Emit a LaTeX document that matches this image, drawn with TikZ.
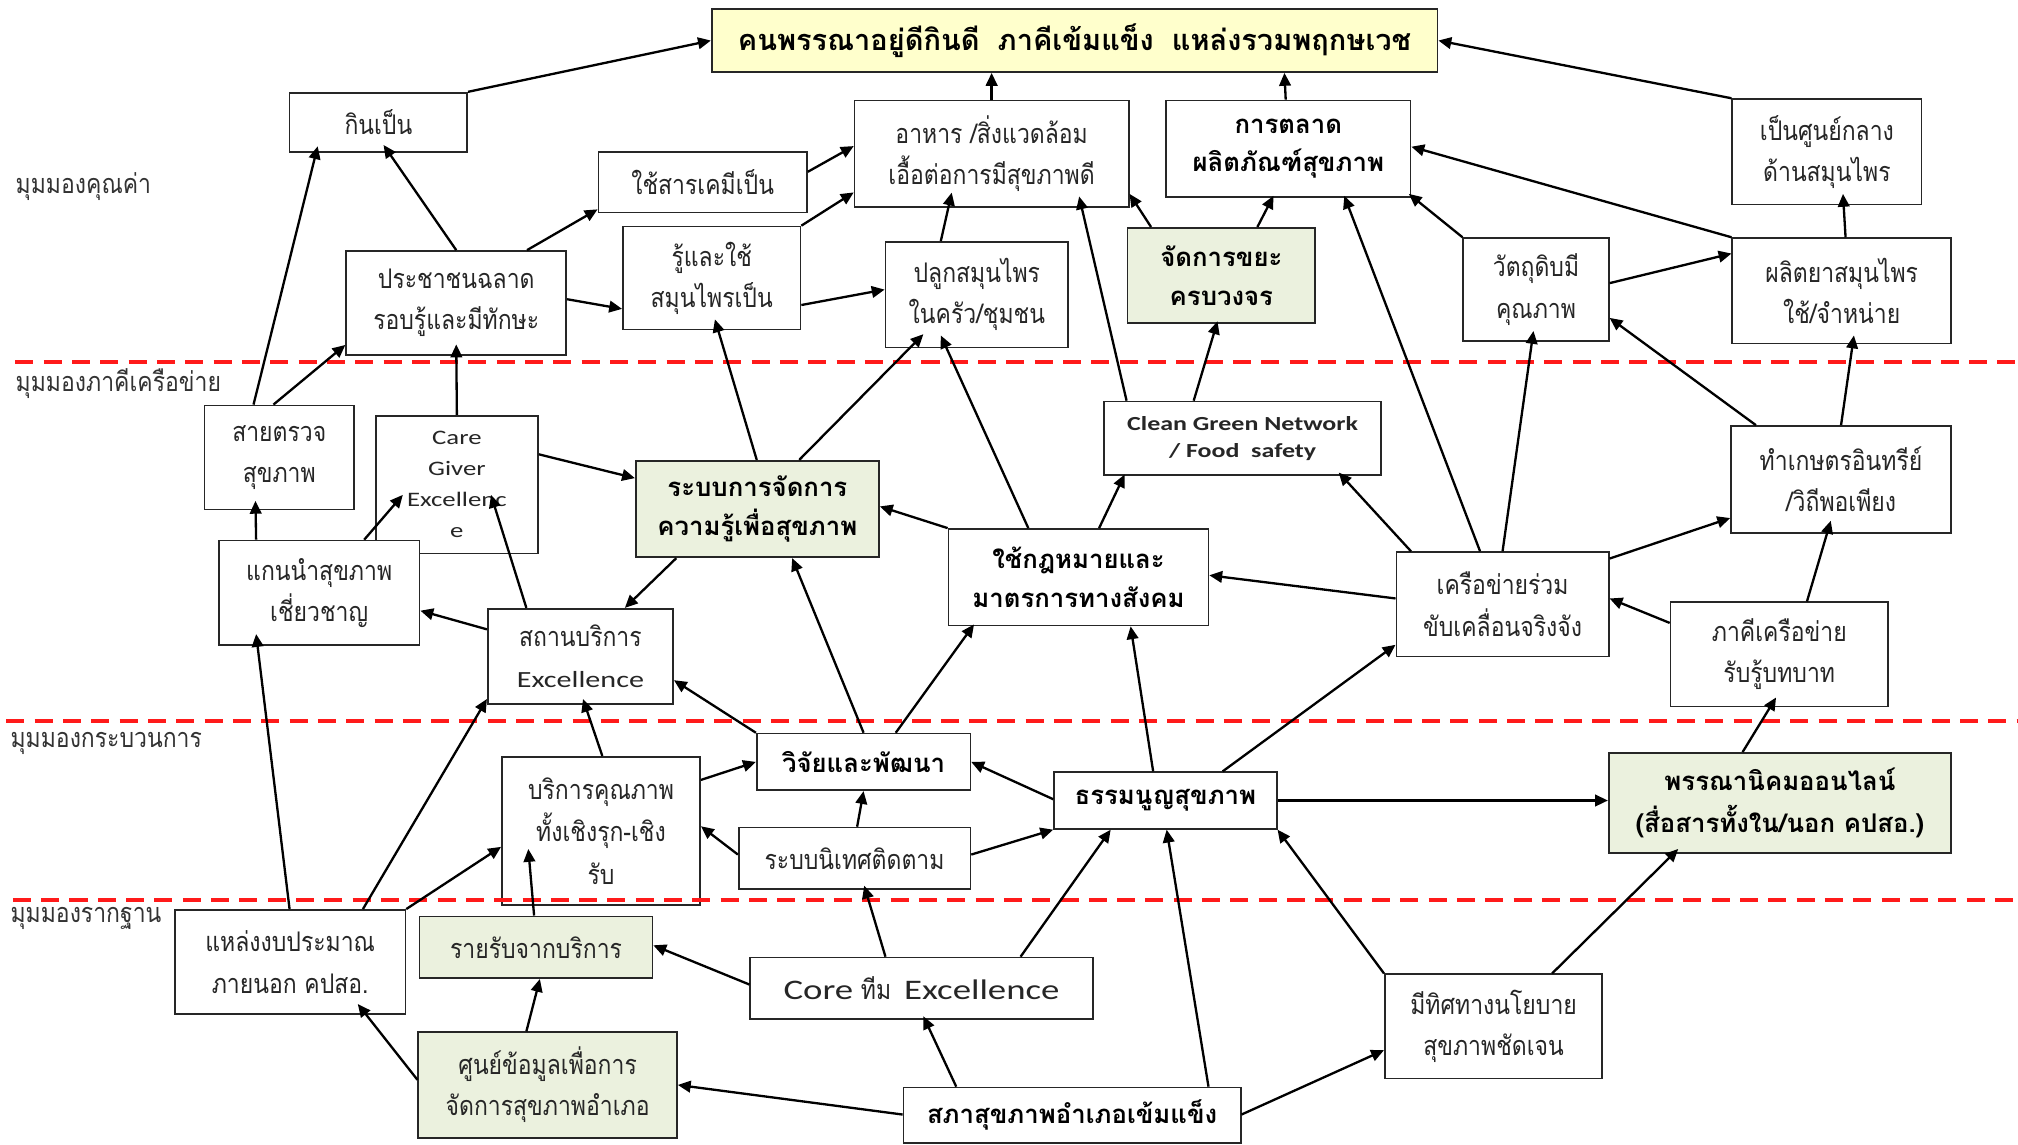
\documentclass[tikz,border=0pt]{standalone}
\usepackage{fontspec}
\setmainfont{Loma}[Script=Thai]
\newfontfamily\thn{Loma}[Script=Thai,FakeStretch=0.85]
\newfontfamily\en{Carlito}[FakeStretch=1.3]
\usetikzlibrary{arrows.meta}
\definecolor{boxgreen}{HTML}{EBF1DE}
\definecolor{boxyellow}{HTML}{FFFFCC}
\definecolor{dashred}{HTML}{FF1A1A}
\tikzset{
 box/.style={draw=black!85, line width=1.3pt, fill=white, align=center, inner sep=0pt,
   font=\thn\fontsize{21}{32}\selectfont, text=black!85},
 gbox/.style={box, fill=boxgreen},
 bfbox/.style={font=\fontsize{20}{30}\selectfont\bfseries, text=black},
 arr/.style={line width=1.8pt, -{Triangle[length=10pt,width=9pt]}},
 zone/.style={dashred, line width=3pt, dash pattern=on 14pt off 8pt},
 zlabel/.style={anchor=west, font=\thn\fontsize{21}{24}\selectfont, text=black!80, inner sep=0pt},
}
\begin{document}
\begin{tikzpicture}[x=1pt,y=-1pt]
\useasboundingbox (0,0) rectangle (1568,889);
\fill[white] (0,0) rectangle (1568,889);

% band labels
\node[zlabel] (l1) at (12,145) {มุมมองคุณค่า};
\node[zlabel] (l2) at (12,298) {มุมมองภาคีเครือข่าย};
\node[zlabel] (l3) at (8,578) {มุมมองกระบวนการ};
\node[zlabel] (l4) at (8,714) {มุมมองรากฐาน};

% boxes
\node[box,bfbox,font=\fontsize{22.5}{30}\selectfont\bfseries,fill=boxyellow,minimum width=564pt,minimum height=49pt] (top) at (835,31.5) {คนพรรณาอยู่ดีกินดี\hspace{14pt}ภาคีเข้มแข็ง\hspace{14pt}แหล่งรวมพฤกษเวช};
\node[box,minimum width=138pt,minimum height=46pt] (kin) at (294,95) {กินเป็น};
\node[box,minimum width=162pt,minimum height=47pt] (chem) at (546,141.5) {ใช้สารเคมีเป็น};
\node[box,minimum width=213pt,minimum height=83pt] (food) at (770.5,119.5) {อาหาร /สิ่งแวดล้อม\\เอื้อต่อการมีสุขภาพดี};
\node[box,bfbox,minimum width=190pt,minimum height=75pt] (market) at (1001,115.5) {การตลาด\\ผลิตภัณฑ์สุขภาพ};
\node[box,minimum width=147pt,minimum height=82pt] (center) at (1419.5,118) {เป็นศูนย์กลาง\\ด้านสมุนไพร};
\node[box,minimum width=171pt,minimum height=81pt] (people) at (354.5,235.5) {ประชาชนฉลาด\\รอบรู้และมีทักษะ};
\node[box,minimum width=138pt,minimum height=80pt] (knowuse) at (553,216) {รู้และใช้\\สมุนไพรเป็น};
\node[box,minimum width=142pt,minimum height=82pt] (grow) at (759,229) {ปลูกสมุนไพร\\ในครัว/ชุมชน};
\node[gbox,bfbox,minimum width=146pt,minimum height=74pt] (waste) at (949,214) {จัดการขยะ\\ครบวงจร};
\node[box,minimum width=113pt,minimum height=80pt] (raw) at (1193.5,225) {วัตถุดิบมี\\คุณภาพ};
\node[box,minimum width=170pt,minimum height=82pt] (herbprod) at (1431,226) {ผลิตยาสมุนไพร\\ใช้/จำหน่าย};

\node[box,minimum width=116pt,minimum height=81pt] (check) at (217,355.5) {สายตรวจ\\สุขภาพ};
\node[box,font=\en\fontsize{16}{24}\selectfont,minimum width=126pt,minimum height=107pt] (care) at (355,376.5) {Care\\Giver\\Excellenc\\e};
\node[box,minimum width=156pt,minimum height=81pt] (leader) at (248,460.5) {แกนนำสุขภาพ\\เชี่ยวชาญ};
\node[gbox,bfbox,minimum width=189pt,minimum height=75pt] (km) at (588.5,395.5) {ระบบการจัดการ\\ความรู้เพื่อสุขภาพ};
\node[box,minimum width=144pt,minimum height=74pt] (facility) at (451,510) {สถานบริการ\\{\en\fontsize{18}{30}\selectfont Excellence}};
\node[box,bfbox,minimum width=202pt,minimum height=75pt] (law) at (838,448.5) {ใช้กฎหมายและ\\มาตรการทางสังคม};
\node[box,font=\en\fontsize{15.5}{21}\selectfont\bfseries,minimum width=215pt,minimum height=57pt] (cgn) at (965.5,340.5) {Clean Green Network\\/ Food\ \ safety};
\node[box,minimum width=165pt,minimum height=81pt] (net) at (1167.5,469.5) {เครือข่ายร่วม\\ขับเคลื่อนจริงจัง};
\node[box,minimum width=171pt,minimum height=83pt] (organic) at (1430.5,372.5) {ทำเกษตรอินทรีย์\\/วิถีพอเพียง};
\node[box,minimum width=169pt,minimum height=81pt] (partner) at (1382.5,508.5) {ภาคีเครือข่าย\\รับรู้บทบาท};

\node[box,font=\thn\fontsize{21}{33}\selectfont,minimum width=154pt,minimum height=115pt] (quality) at (467,645.5) {บริการคุณภาพ\\ทั้งเชิงรุก-เชิง\\รับ};
\node[box,bfbox,minimum width=166pt,minimum height=44pt] (rnd) at (671,592) {วิจัยและพัฒนา};
\node[box,minimum width=180pt,minimum height=48pt] (supervise) at (664,667) {ระบบนิเทศติดตาม};
\node[box,bfbox,minimum width=173pt,minimum height=44pt] (charter) at (905.5,622) {ธรรมนูญสุขภาพ};
\node[gbox,bfbox,font=\fontsize{20}{33}\selectfont\bfseries,minimum width=266pt,minimum height=78pt] (online) at (1383,624) {พรรณานิคมออนไลน์\\(สื่อสารทั้งใน/นอก คปสอ.)};

\node[box,minimum width=179pt,minimum height=81pt] (budget) at (225.5,747.5) {แหล่งงบประมาณ\\ภายนอก คปสอ.};
\node[gbox,minimum width=181pt,minimum height=48pt] (income) at (416.5,736) {รายรับจากบริการ};
\node[box,minimum width=266pt,minimum height=48pt] (core) at (716,768) {{\en\fontsize{22}{26}\selectfont Core} ทีม\hspace{10pt}{\en\fontsize{22}{26}\selectfont Excellence}};
\node[gbox,minimum width=201pt,minimum height=82pt] (data) at (425.5,843) {ศูนย์ข้อมูลเพื่อการ\\จัดการสุขภาพอำเภอ};
\node[box,bfbox,minimum width=262pt,minimum height=43pt] (council) at (833,866.5) {สภาสุขภาพอำเภอเข้มแข็ง};
\node[box,minimum width=169pt,minimum height=81pt] (policy) at (1160.5,797.5) {มีทิศทางนโยบาย\\สุขภาพชัดเจน};

% zone lines
\draw[zone] (12,281) -- (1568,281);
\draw[zone] (5,560) -- (1568,560);
\draw[zone] (10,699) -- (1568,699);

% connectors
\draw[arr] (kin.north east) -- (top.west);
\draw[arr] (food.north) -- ([xshift=-64.5pt]top.south);
\draw[arr] ([xshift=-2pt]market.north) -- ([xshift=163pt]top.south);
\draw[arr] (center.north west) -- (top.east);
\draw[arr] ([yshift=8pt]chem.east) -- ([yshift=6pt]food.west);
\draw[arr] (knowuse.north east) -- ([yshift=-30pt]food.west);
\draw[arr] (people.north) -- ([xshift=4pt,yshift=6pt]kin.south);
\draw[arr] ([xshift=55pt]people.north) -- ([yshift=3pt]chem.south west);
\draw[arr] ([yshift=3pt]people.east) -- ([yshift=-24pt]knowuse.west);
\draw[arr] ([yshift=-21pt]knowuse.east) -- ([yshift=4pt]grow.west);
\draw[arr] ([xshift=-28pt]grow.north) -- ([xshift=-31pt,yshift=12pt]food.south);
\draw[arr] ([xshift=19pt]waste.north west) -- ([yshift=11pt]food.south east);
\draw[arr] ([xshift=28pt]waste.north) -- ([xshift=-11.5pt,yshift=1.5pt]market.south);
\draw[arr] (raw.north west) -- ([xshift=-2pt,yshift=3pt]market.south east);
\draw[arr] (herbprod.north west) -- ([yshift=1.5pt]market.east);
\draw[arr] ([xshift=3pt]herbprod.north) -- ([xshift=12.5pt,yshift=9pt]center.south);
\draw[arr] ([yshift=5pt]raw.east) -- ([yshift=29pt]herbprod.west);
\draw[arr] ([xshift=32.5pt]km.north) -- ([xshift=-41.5pt,yshift=11pt]grow.south);
\draw[arr] ([xshift=-39pt]law.north) -- ([xshift=-28pt,yshift=10pt]grow.south);
\draw[arr] ([xshift=18pt]cgn.north west) -- ([xshift=68pt,yshift=9pt]food.south);
\draw[arr] ([xshift=-38pt]cgn.north) -- ([xshift=-3pt,yshift=2pt]waste.south);
\draw[arr] ([xshift=-17.5pt]net.north) -- ([xshift=43.5pt,yshift=1.5pt]market.south);
\draw[arr] (net.north) -- ([xshift=-2pt,yshift=8.5pt]raw.south);
\draw[arr] ([xshift=20pt]organic.north west) -- ([yshift=-22pt]raw.east);
\draw[arr] (organic.north) -- ([xshift=9.5pt,yshift=7pt]herbprod.south);
\draw[arr] ([yshift=35.5pt]net.east) -- ([yshift=-30pt]organic.west);
\draw[arr] ([xshift=21.5pt]partner.north) -- ([xshift=-8pt,yshift=10pt]organic.south);
\draw[arr] ([yshift=24.5pt]partner.west) -- ([yshift=4.5pt]net.east);
\draw[arr] ([yshift=4.5pt]net.west) -- ([yshift=1.5pt]law.east);
\draw[arr] ([xshift=12pt]net.north west) -- ([xshift=-33.5pt,yshift=2.5pt]cgn.south east);
\draw[arr] ([xshift=16pt]law.north) -- ([xshift=16.5pt,yshift=1pt]cgn.south west);
\draw[arr] (law.north west) -- ([yshift=2pt]km.east);
\draw[arr] ([xshift=-0.5pt]km.north) -- ([xshift=2.5pt,yshift=8.5pt]knowuse.south);
\draw[arr] ([xshift=-63pt]km.south) -- ([xshift=34.5pt]facility.north);
\draw[arr] ([yshift=23.5pt]care.east) -- ([yshift=24pt]km.west);
\draw[arr] (care.north) -- ([yshift=9pt]people.south);
\draw[arr] ([xshift=-20pt]check.north) -- ([xshift=22.5pt,yshift=5pt]kin.south west);
\draw[arr] ([xshift=-4.5pt]check.north) -- ([yshift=-32.5pt]people.west);
\draw[arr] ([xshift=-49pt]leader.north) -- ([xshift=-18.5pt,yshift=7.5pt]check.south);
\draw[arr] ([xshift=35pt]leader.north) -- ([xshift=-42pt,yshift=-8pt]care.center);
\draw[arr] ([xshift=-42pt]facility.north) -- ([xshift=26.5pt,yshift=-8pt]care.center);
\draw[arr] ([yshift=21pt]facility.west) -- ([yshift=-14pt]leader.east);
\draw[arr] ([xshift=-0.5pt]budget.north) -- ([xshift=-49pt,yshift=9pt]leader.south);
\draw[arr] ([xshift=56.5pt]budget.north) -- ([yshift=4.5pt]facility.south west);
\draw[arr] (budget.north east) -- ([yshift=-12.5pt]quality.west);
\draw[arr] ([xshift=1pt]quality.north) -- ([xshift=2pt,yshift=4.5pt]facility.south);
\draw[arr] (rnd.north west) -- ([yshift=-18.5pt]facility.east);
\draw[arr] (rnd.north) -- ([xshift=27pt]km.south);
\draw[arr] ([xshift=25pt]rnd.north) -- ([xshift=20.5pt,yshift=1.5pt]law.south west);
\draw[arr] ([yshift=39.5pt]quality.east) -- (rnd.west);
\draw[arr] ([yshift=3pt]supervise.west) -- ([yshift=3.5pt]quality.east);
\draw[arr] ([xshift=2pt]supervise.north) -- (rnd.south);
\draw[arr] ([yshift=3pt]supervise.east) -- (charter.south west);
\draw[arr] ([yshift=1pt]charter.west) -- (rnd.east);
\draw[arr] ([xshift=-9.5pt]charter.north) -- ([xshift=40.5pt]law.south);
\draw[arr] ([xshift=44.5pt]charter.north) -- ([yshift=-31.5pt]net.west);
\draw[arr] (charter.east) -- ([yshift=2pt]online.west);
\draw[arr] ([xshift=-29pt]online.north) -- ([xshift=-2.5pt,yshift=7.7pt]partner.south);
\draw[arr] ([xshift=-28pt]core.north) -- ([xshift=7.5pt,yshift=3.5pt]supervise.south);
\draw[arr] ([xshift=77pt]core.north) -- ([xshift=-42.5pt]charter.south);
\draw[arr] ([yshift=3pt]core.west) -- ([yshift=1.5pt]income.east);
\draw[arr] ([xshift=-1.5pt]income.north) -- ([xshift=-56.5pt,yshift=44pt]quality.south);
\draw[arr] ([xshift=-16.5pt]data.north) -- ([xshift=3pt]income.south);
\draw[arr] ([yshift=4pt]data.west) -- ([xshift=52.5pt,yshift=8.5pt]budget.south);
\draw[arr] ([yshift=0.5pt]council.west) -- (data.east);
\draw[arr] ([xshift=-90pt]council.north) -- ([xshift=1.5pt,yshift=3pt]core.south);
\draw[arr] ([xshift=106pt]council.north) -- ([xshift=1pt]charter.south);
\draw[arr] ([yshift=0.5pt]council.east) -- ([yshift=-18.5pt]policy.west);
\draw[arr] (policy.north west) -- (charter.south east);
\draw[arr] ([xshift=45.5pt]policy.north) -- ([xshift=-79pt,yshift=4pt]online.south);
\end{tikzpicture}
\end{document}
